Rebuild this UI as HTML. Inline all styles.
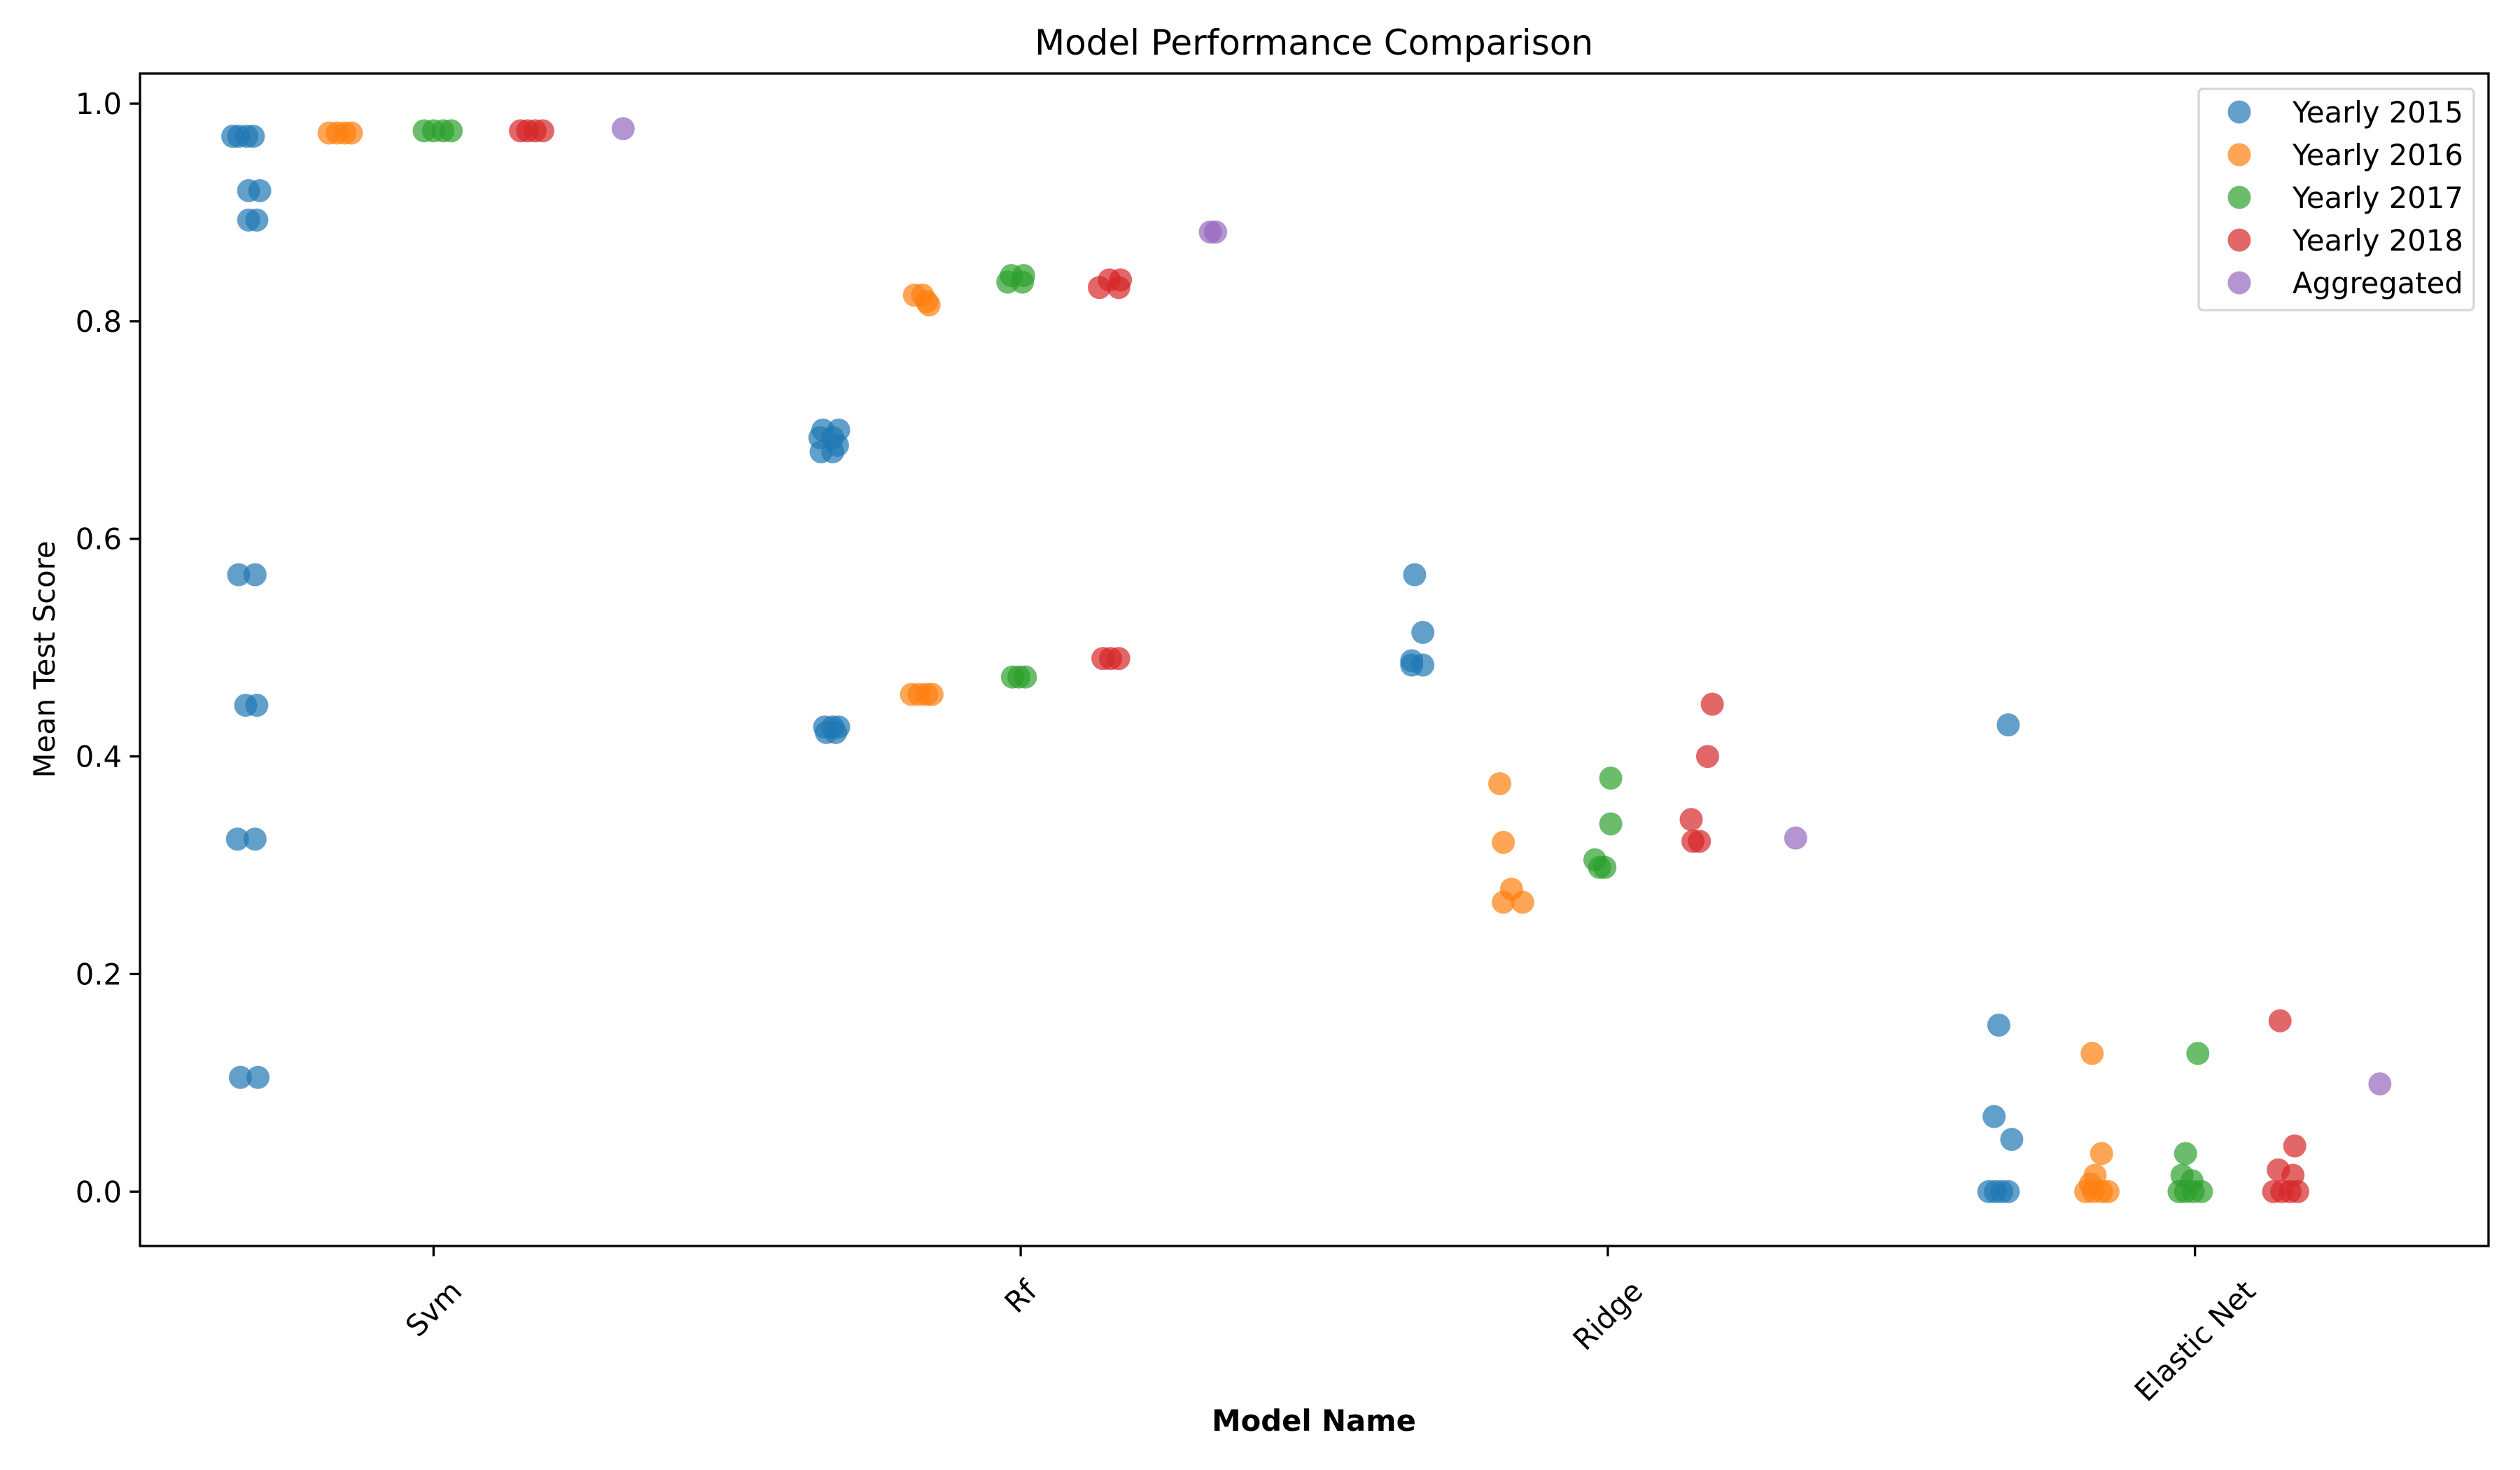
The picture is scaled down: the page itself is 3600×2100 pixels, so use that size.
<!DOCTYPE html>
<html><head><meta charset="utf-8"><style>
html,body{margin:0;padding:0;background:#fff;}
svg{display:block;font-family:"DejaVu Sans","Liberation Sans",sans-serif;}
</style></head><body>
<svg id="chart" width="3600" height="2100" viewBox="0 0 3600 2100" xmlns="http://www.w3.org/2000/svg">
<rect width="3600" height="2100" fill="#fff"/>
<text x="1877" y="78" font-size="50" text-anchor="middle">Model Performance Comparison</text>
<g id="marks"></g>
<g id="axes"></g>
<text x="1877" y="2044" font-size="41.7" font-weight="bold" text-anchor="middle">Model Name</text>
<text transform="translate(78,942) rotate(-90)" font-size="41.7" text-anchor="middle">Mean Test Score</text>
<g id="legend"></g>
</svg>
<script>
const categories = ["Svm", "Rf", "Ridge", "Elastic Net"];
const hueLabels = ["Yearly 2015", "Yearly 2016", "Yearly 2017", "Yearly 2018", "Aggregated"];
const yTicks = [0.0, 0.2, 0.4, 0.6, 0.8, 1.0];
const yTickLabels = ["0.0", "0.2", "0.4", "0.6", "0.8", "1.0"];
// each point: [categoryIndex, value, jitter(in category units)]
const points2015 = [
 [0,0.970,-0.022],[0,0.970,-0.012],[0,0.970,0.002],[0,0.970,0.013],[0,0.920,0.005],[0,0.920,0.024],
 [0,0.893,0.005],[0,0.893,0.019],[0,0.567,-0.012],[0,0.567,0.016],[0,0.447,0.0],[0,0.447,0.019],
 [0,0.324,-0.014],[0,0.324,0.016],[0,0.105,-0.009],[0,0.105,0.021],
 [1,0.700,-0.017],[1,0.700,0.010],[1,0.693,-0.022],[1,0.693,0.0],[1,0.686,0.008],[1,0.680,-0.020],[1,0.680,0.0],
 [1,0.427,-0.014],[1,0.427,0.0],[1,0.427,0.010],[1,0.422,-0.011],[1,0.422,0.005],
 [2,0.567,-0.009],[2,0.514,0.005],[2,0.488,-0.014],[2,0.484,-0.014],[2,0.484,0.005],
 [3,0.429,0.002],[3,0.153,-0.014],[3,0.069,-0.022],[3,0.048,0.008],[3,0.0,-0.031],[3,0.0,-0.020],[3,0.0,-0.009],[3,0.0,0.002]
];
const points2016 = [
 [0,0.973,-0.018],[0,0.973,-0.004],[0,0.973,0.009],[0,0.973,0.020],
 [1,0.824,-0.021],[1,0.824,-0.007],[1,0.818,0.0],[1,0.815,0.004],
 [1,0.457,-0.026],[1,0.457,-0.013],[1,0.457,0.0],[1,0.457,0.009],
 [2,0.375,-0.024],[2,0.321,-0.018],[2,0.278,-0.004],[2,0.266,-0.018],[2,0.266,0.015],
 [3,0.127,-0.015],[3,0.035,0.001],[3,0.015,-0.010],[3,0.007,-0.018],[3,0.0,-0.026],[3,0.0,-0.013],[3,0.0,0.001],[3,0.0,0.012]
];
const points2017 = [
 [0,0.975,-0.016],[0,0.975,0.0],[0,0.975,0.016],[0,0.975,0.030],
 [1,0.842,-0.016],[1,0.842,0.005],[1,0.836,-0.022],[1,0.836,0.003],
 [1,0.473,-0.014],[1,0.473,-0.003],[1,0.473,0.008],
 [2,0.380,0.005],[2,0.338,0.005],[2,0.305,-0.022],[2,0.298,-0.014],[2,0.298,-0.005],
 [3,0.127,0.005],[3,0.035,-0.016],[3,0.015,-0.022],[3,0.010,-0.005],[3,0.0,-0.027],[3,0.0,-0.016],[3,0.0,-0.003],[3,0.0,0.011]
];
const points2018 = [
 [0,0.975,-0.012],[0,0.975,0.0],[0,0.975,0.013],[0,0.975,0.026],
 [1,0.831,-0.026],[1,0.831,0.007],[1,0.838,-0.009],[1,0.838,0.010],
 [1,0.490,-0.020],[1,0.490,-0.007],[1,0.490,0.007],
 [2,0.448,0.018],[2,0.400,0.010],[2,0.342,-0.018],[2,0.322,-0.015],[2,0.322,-0.004],
 [3,0.157,-0.015],[3,0.042,0.010],[3,0.020,-0.018],[3,0.015,0.007],[3,0.0,-0.026],[3,0.0,-0.012],[3,0.0,0.002],[3,0.0,0.015]
];
const pointsAggregated = [
 [0,0.977,0.003],[1,0.882,0.003],[1,0.882,0.012],[2,0.325,0.0],[3,0.099,-0.005]
];
const seriesPoints = [points2015, points2016, points2017, points2018, pointsAggregated];
const colors = ["#1f77b4","#ff7f0e","#2ca02c","#d62728","#9467bd"];

const NS = "http://www.w3.org/2000/svg";
const L = 200, R = 3555, T = 105, B = 1780;
const xMin = -0.5, xMax = 3.5, yMin = -0.05, yMax = 1.0277;
const dodge = 0.16;
function xScale(c){ return L + (c - xMin) / (xMax - xMin) * (R - L); }
function yScale(v){ return B - (v - yMin) / (yMax - yMin) * (B - T); }
function mk(tag, attrs, parent){ const e = document.createElementNS(NS, tag); for (const k in attrs) e.setAttribute(k, attrs[k]); parent.appendChild(e); return e; }

const marks = document.getElementById('marks');
seriesPoints.forEach((pts, h) => {
  pts.forEach(p => {
    const cx = xScale(p[0] + (h - 2) * dodge + p[2]);
    const c = mk('circle', {cx: cx, cy: yScale(p[1]), r: 16.5, fill: colors[h], 'fill-opacity': 0.7}, marks);
    
    
  });
});

const axes = document.getElementById('axes');
const frame = mk('rect', {x: L, y: T, width: R - L, height: B - T, fill: 'none', stroke: '#000', 'stroke-width': 3.3}, axes);


yTicks.forEach((v, i) => {
  const y = yScale(v);
  const t = mk('line', {x1: L - 14.6, x2: L, y1: y, y2: y, stroke: '#000', 'stroke-width': 3.3}, axes);
  
  
  const lb = mk('text', {x: L - 26, y: y + 15, 'font-size': 41.7, 'text-anchor': 'end'}, axes);
  lb.textContent = yTickLabels[i];
  
  
});
categories.forEach((c, i) => {
  const x = xScale(i);
  const t = mk('line', {x1: x, x2: x, y1: B, y2: B + 14.6, stroke: '#000', 'stroke-width': 3.3}, axes);
  
  
  const lb = mk('text', {x: 0, y: 0, 'font-size': 41.7, 'text-anchor': 'middle', 'dominant-baseline': 'central'}, axes);
  lb.textContent = c;
  
  
  const w = lb.getComputedTextLength();
  const cy = 1822 + (w + 42) * 0.354;
  lb.setAttribute('transform', 'translate(' + x + ',' + cy + ') rotate(-45)');
});

const legend = document.getElementById('legend');
const box = mk('rect', {x: 3141, y: 127, width: 393, height: 316, rx: 6, fill: '#fff', 'fill-opacity': 0.8, stroke: '#d6d6d6', 'stroke-width': 3.3}, legend);


hueLabels.forEach((lab, i) => {
  const y = 160 + i * 61;
  const g = mk('g', {}, legend);
  
  
  mk('circle', {cx: 3199, cy: y, r: 16.5, fill: colors[i], 'fill-opacity': 0.7}, g);
  const tx = mk('text', {x: 3275, y: y + 15, 'font-size': 41.7}, g);
  tx.textContent = lab;
});
</script>
</body></html>
